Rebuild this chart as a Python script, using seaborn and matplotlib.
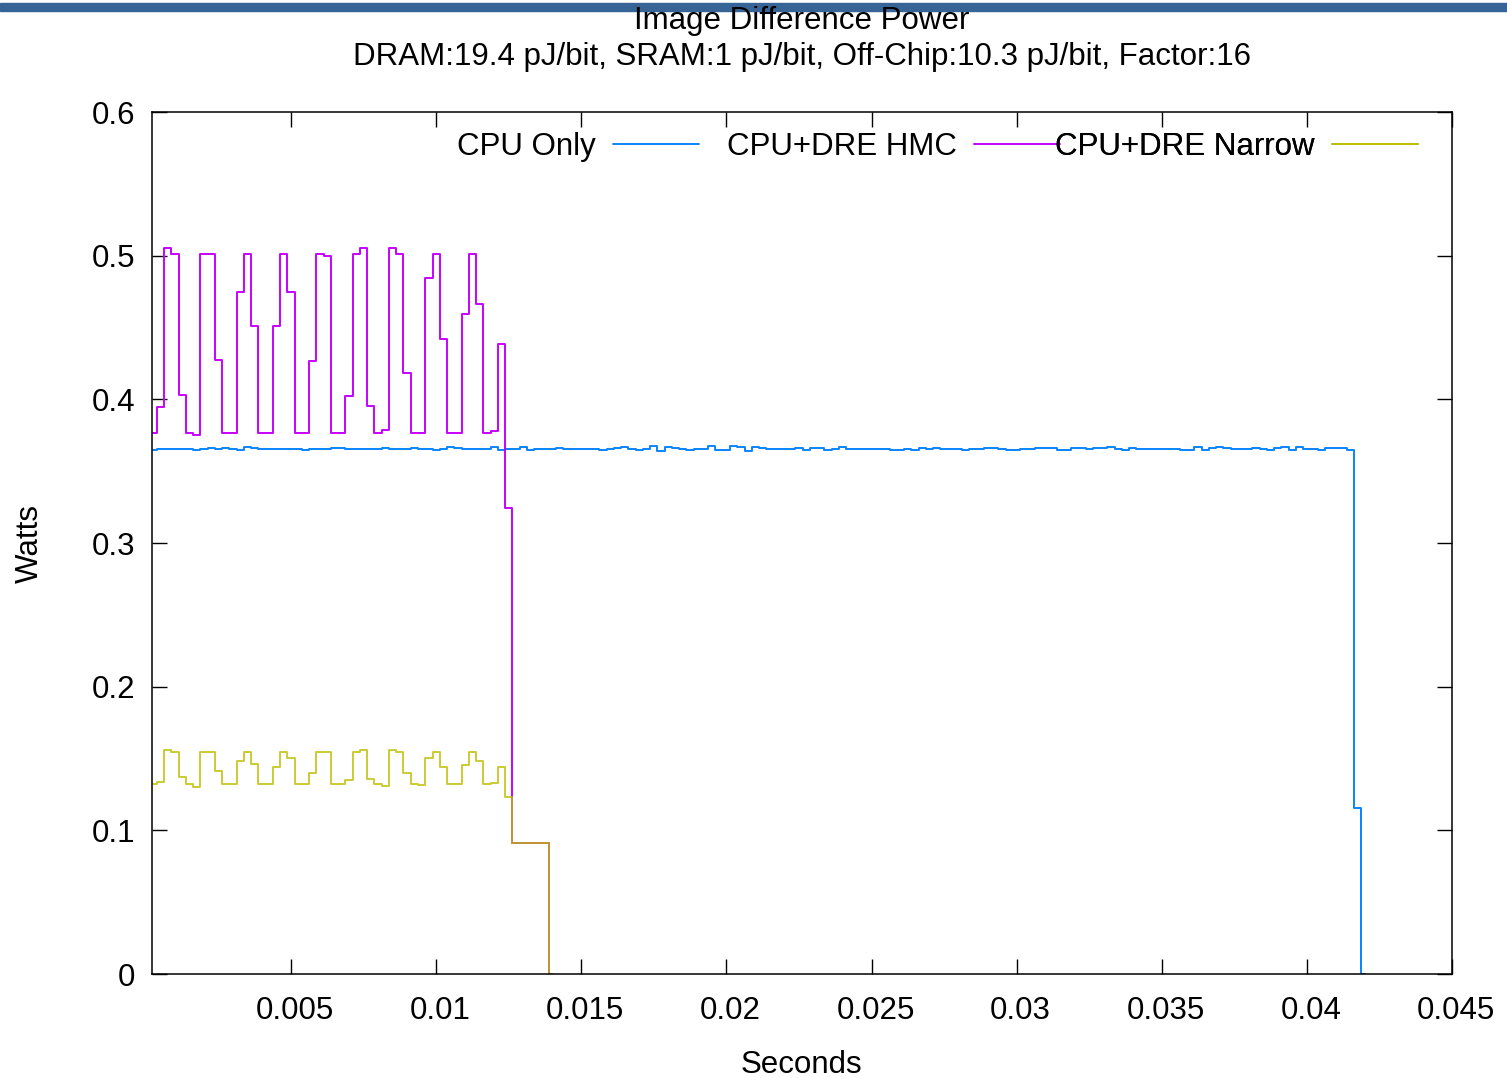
import matplotlib
matplotlib.use('Agg')
import matplotlib.pyplot as plt
import matplotlib.patches as mpatches
from matplotlib.ticker import FuncFormatter, MultipleLocator
from matplotlib.transforms import ScaledTranslation
import numpy as np
import seaborn as sns

# sampling bin (seconds), one value per bin
bin_width = 0.00025

cpu_only = [
    .3647, .3654, .3654, .3652, .3654, .3654, .3645, .3654, .3663, .3654,
    .3663, .3656, .3647, .3670, .3663, .3656, .3654, .3656, .3654, .3656,
    .3654, .3649, .3652, .3656, .3656, .3663, .3661, .3656, .3656, .3652,
    .3656, .3652, .3659, .3656, .3656, .3654, .3659, .3656, .3656, .3645,
    .3654, .3670, .3661, .3656, .3654, .3656, .3654, .3666, .3649, .3656,
    .3656, .3670, .3647, .3652, .3654, .3654, .3663, .3656, .3656, .3656,
    .3656, .3656, .3649, .3656, .3659, .3668, .3656, .3649, .3654, .3673,
    .3642, .3670, .3659, .3656, .3649, .3656, .3656, .3673, .3645, .3649,
    .3673, .3666, .3638, .3666, .3659, .3652, .3652, .3656, .3656, .3663,
    .3647, .3663, .3659, .3649, .3652, .3670, .3656, .3652, .3656, .3656,
    .3656, .3656, .3645, .3645, .3654, .3649, .3659, .3654, .3659, .3656,
    .3654, .3654, .3645, .3656, .3656, .3661, .3663, .3656, .3647, .3649,
    .3654, .3656, .3659, .3661, .3661, .3649, .3647, .3663, .3661, .3656,
    .3659, .3663, .3668, .3654, .3645, .3659, .3654, .3654, .3656, .3656,
    .3654, .3656, .3649, .3649, .3670, .3645, .3659, .3668, .3663, .3652,
    .3654, .3654, .3659, .3652, .3649, .3661, .3666, .3649, .3666, .3656,
    .3656, .3649, .3661, .3659, .3659, .3649, .1157, 0.0,
]

dre_hmc = [
    .3768, .3947, .5055, .5010, .4032, .3768, .3749, .5010, .5010, .4272,
    .3768, .3768, .4748, .5010, .4511, .3768, .3768, .4509, .5010, .4748,
    .3768, .3768, .4268, .5010, .4997, .3768, .3768, .4023, .5010, .5055,
    .3951, .3768, .3789, .5055, .5015, .4184, .3768, .3764, .4843, .5010,
    .4423, .3768, .3768, .4597, .5013, .4662, .3768, .3779, .4388,
    .3247, .0915, .0915, .0915, .0915, .0915, 0.0,
]

dre_narrow = [
    .1326, .1333, .1556, .1547, .1371, .1322, .1301, .1547, .1547, .1415,
    .1322, .1322, .1484, .1547, .1461, .1322, .1322, .1438, .1545, .1501,
    .1322, .1322, .1396, .1545, .1545, .1322, .1322, .1347, .1542, .1556,
    .1354, .1322, .1308, .1556, .1547, .1398, .1322, .1317, .1503, .1542,
    .1443, .1322, .1322, .1454, .1542, .1484, .1322, .1331, .1438,
    .1229, .0915, .0915, .0915, .0915, .0915, 0.0,
]

labels = ['CPU Only', 'CPU+DRE HMC', 'CPU+DRE Narrow']
colors = ['#0a84ff', '#c800ff', '#bebe00']

sns.set_style('ticks')
plt.rcParams['font.family'] = ['Liberation Sans', 'DejaVu Sans']
plt.rcParams['font.size'] = 22.5
plt.rcParams['text.color'] = 'black'
plt.rcParams['axes.labelcolor'] = 'black'

fig = plt.figure(figsize=(15.07, 10.78), dpi=100)
ax = fig.add_axes([0.10066, 0.09647, 0.86284, 0.79963])

# blue strip along the top edge
fig.patches.append(mpatches.Rectangle((0, 1 - 11 / 1078), 1, 8 / 1078,
                                      transform=fig.transFigure,
                                      color='#376496', zorder=0))

series = [cpu_only, dre_hmc, dre_narrow]
alphas = [1.0, 1.0, 0.8]
for vals, lab, col, a in zip(series, labels, colors, alphas):
    t = np.arange(1, len(vals) + 1) * bin_width
    sns.lineplot(x=t, y=vals, ax=ax, color=col, label=lab, lw=1.4,
                 alpha=a, drawstyle='steps-mid', sort=False)

ax.set_xlim(0.0002, 0.045)
ax.set_ylim(0, 0.6)
ax.xaxis.set_major_locator(MultipleLocator(0.005))
ax.yaxis.set_major_locator(MultipleLocator(0.1))
fmt = FuncFormatter(lambda v, p: '%g' % round(v, 6))
ax.xaxis.set_major_formatter(fmt)
ax.yaxis.set_major_formatter(fmt)

for s in ax.spines.values():
    s.set_visible(True)
    s.set_linewidth(1.1)
    s.set_color('black')
ax.tick_params(direction='in', length=11, width=1, top=True, right=True,
               labelsize=22.5, colors='black')
ax.tick_params(axis='x', pad=16)
ax.tick_params(axis='y', pad=12)

# gnuplot puts the x tick labels a few pixels right of the tick
shift = ScaledTranslation(4 / 100, 0, fig.dpi_scale_trans)
for lbl in ax.get_xticklabels():
    lbl.set_transform(lbl.get_transform() + shift)

ax.set_xlabel('Seconds', fontsize=22.5)
ax.set_ylabel('Watts', fontsize=22.5)
ax.xaxis.set_label_coords(0.5, -0.088)
ax.yaxis.set_label_coords(-0.082, 0.5)

# gnuplot-style key: text on the left, sample on the right, fixed pitch
handles, labs = ax.get_legend_handles_labels()
ax.get_legend().remove()
key_right = [0.4209, 0.6986, 0.9739]
for h, lab, xr in zip(handles, labs, key_right):
    leg = ax.legend([h], [lab], loc='upper right', bbox_to_anchor=(xr, 0.977),
                    frameon=False, markerfirst=False, fontsize=22.5,
                    handlelength=2.75, handletextpad=0.55,
                    borderpad=0, borderaxespad=0)
    for line in leg.get_lines():
        line.set_alpha(1.0)
        line.set_linewidth(1.4)
    ax.add_artist(leg)

fig.text(0.532, 1 - 21 / 1078, 'Image Difference Power', ha='center',
         va='center', fontsize=22.5)
fig.text(0.532, 1 - 57 / 1078,
         'DRAM:19.4 pJ/bit, SRAM:1 pJ/bit, Off-Chip:10.3 pJ/bit, Factor:16',
         ha='center', va='center', fontsize=22.5)

fig.savefig('out.png', dpi=100, facecolor='white')
